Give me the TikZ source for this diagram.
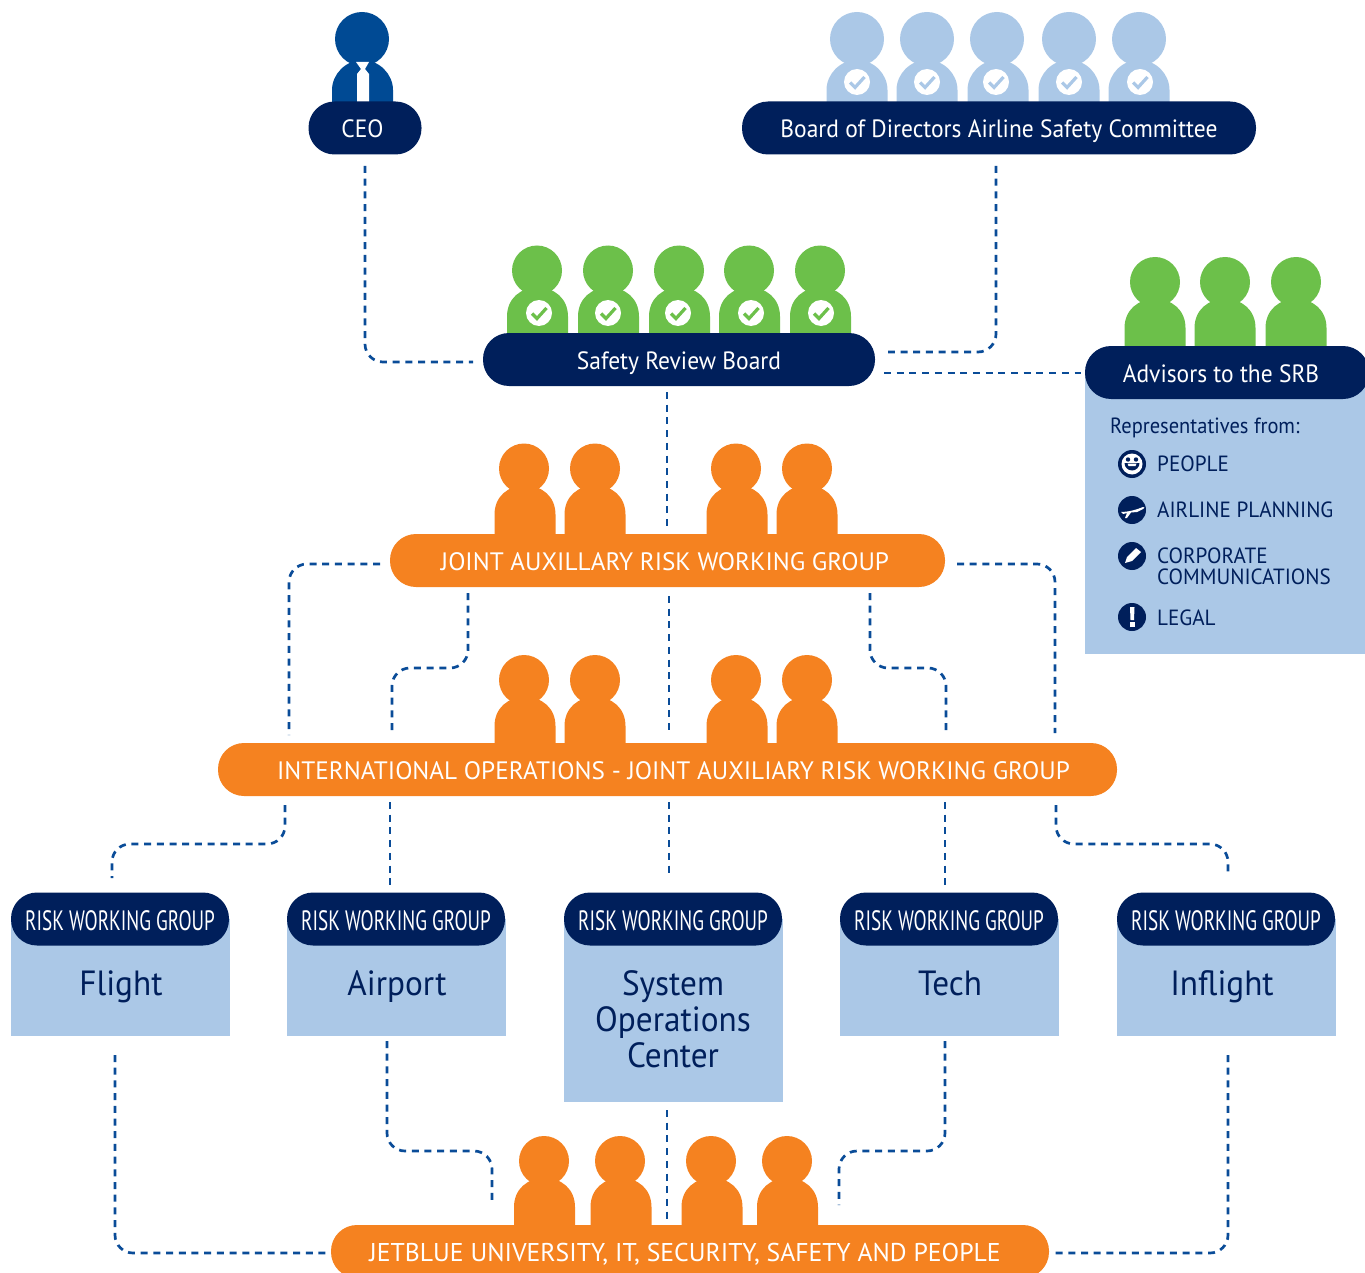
\documentclass[tikz,border=0pt]{standalone}
\usepackage{fontspec}
\setmainfont{PT Sans}
\newfontfamily\condfont[FakeStretch=0.685]{PT Sans}
\newfontfamily\navyfont[FakeStretch=0.94]{PT Sans}
\newfontfamily\listfont[FakeStretch=0.96]{PT Sans}
\newfontfamily\repfont[FakeStretch=0.93]{PT Sans}
\newfontfamily\boxfont[FakeStretch=0.95]{PT Sans}
\usetikzlibrary{shapes.misc}
\definecolor{navy}{HTML}{001F5B}
\definecolor{ceoblue}{HTML}{004A94}
\definecolor{lightb}{HTML}{ABC8E7}
\definecolor{grn}{HTML}{6CC04A}
\definecolor{org}{HTML}{F58220}
\definecolor{dashb}{HTML}{0A4C98}
\tikzset{
  x=1pt,y=-1pt,
  pill/.style={rectangle,rounded corners=26pt,minimum height=53pt,inner sep=0pt,outer sep=0pt,align=center,text depth=0pt},
  navypill/.style={pill,fill=navy,text=white,text height=19pt,font=\navyfont\fontsize{25}{25}\selectfont},
  orgpill/.style={pill,fill=org,text=white,text height=20.5pt,font=\fontsize{25.2}{25}\selectfont},
  riskpill/.style={pill,fill=navy,text=white,text height=22pt,minimum width=218pt,font=\condfont\fontsize{28}{28}\selectfont},
  riskbox/.style={rectangle,fill=lightb,minimum width=219pt,inner sep=0pt,outer sep=0pt},
  boxtext/.style={text=navy,inner sep=0pt,align=center,font=\boxfont\fontsize{35}{36}\selectfont},
  advtext/.style={text=navy,inner sep=0pt,anchor=west,align=left,font=\listfont\fontsize{22}{21}\selectfont},
  conn/.style={dashb,line width=2.7pt,dash pattern=on 7pt off 5.7pt,rounded corners=18pt},
  iconc/.style={circle,fill=navy,minimum size=28pt,inner sep=0pt},
}
\newcommand{\person}[5]{% body cx, head cx, head cy, bottom y, colour
  \fill[#5] (#2,#3) circle[radius=25];
  \fill[#5] (#1-30.5,#4) -- (#1-30.5,#3+46) .. controls (#1-30.5,#3+28) and (#1-17,#3+17) .. (#1,#3+17)
     .. controls (#1+17,#3+17) and (#1+30.5,#3+28) .. (#1+30.5,#3+46) -- (#1+30.5,#4) -- cycle;
}
\newcommand{\badge}[3]{% x, y, colour
  \fill[white] (#1,#2) circle[radius=13];
  \draw[#3,line width=3.2pt] (#1-7,#2+0.5) -- (#1-2,#2+5.5) -- (#1+7.5,#2-5);
}
\begin{document}
\begin{tikzpicture}
\useasboundingbox (0,0) rectangle (1365,1273);
\clip (0,0) rectangle (1365,1273);

% CEO
\fill[ceoblue] (362,39) circle[radius=27];
\fill[ceoblue] (332,102) -- (332,90) .. controls (332,74) and (346,60) .. (362.5,60) .. controls (379,60) and (393,74) .. (393,90) -- (393,102) -- cycle;
\fill[white] (356,62) -- (369,62) -- (365,69) -- (369,74) -- (369,102) -- (357,102) -- (357,74) -- (361,69) -- cycle;

% Board
\foreach \bx/\hx/\cx in {857/857/857,927/927/927,998/997/996,1069/1069/1069,1139/1139/1140}{
  \fill[lightb] (\hx,39) circle[radius=27];
  \fill[lightb] (\bx-30.5,102) -- (\bx-30.5,90) .. controls (\bx-30.5,74) and (\bx-17,60) .. (\bx,60) .. controls (\bx+17,60) and (\bx+30.5,74) .. (\bx+30.5,90) -- (\bx+30.5,102) -- cycle;
  \badge{\cx}{82}{lightb}
}

% SRB people
\foreach \hx/\cx in {537/539,608/608,679/678,749/751,820/821}{
  \person{\hx+0.5}{\hx}{270.5}{334}{grn}
  \badge{\cx}{313}{grn}
}
% Advisors people
\foreach \hx in {1155,1225,1296}{ \person{\hx}{\hx}{282}{347}{grn} }

% Orange people
\foreach \hx/\bx in {524/525,595/595,736/737,807/807}{
  \person{\bx}{\hx}{468.5}{535}{org}
  \person{\bx}{\hx}{680}{744}{org}
}
\foreach \hx/\bx in {544/544.5,620/621,711/712,787/787.5}{
  \person{\bx}{\hx}{1161}{1226}{org}
}

% Top pills
\node[navypill,minimum width=113pt] (ceo) at (365,128) {\hspace*{-5pt}CEO};
\node[navypill,minimum width=514pt] (board) at (999,128) {Board of Directors Airline Safety Committee};
\node[navypill,minimum width=392pt] (srb) at (679,359.5) {Safety Review Board};

% Advisors
\fill[lightb] (1085,372) rectangle (1365,654);
\node[navypill,minimum width=284pt] (adv) at (1227,372.5) {\hspace*{-12pt}Advisors to the SRB};
\node[advtext,font=\repfont\fontsize{22}{21}\selectfont] (rep) at (1110,428) {Representatives from:};
\node[iconc] (ic1) at (1132,464) {};
\node[iconc] (ic2) at (1132,510) {};
\node[iconc] (ic3) at (1132,556) {};
\node[iconc] (ic4) at (1132,617) {};
\node[advtext] (t1) at (1157,464) {PEOPLE};
\node[advtext] (t2) at (1157,510) {AIRLINE PLANNING};
\node[advtext] (t3) at (1157,566) {CORPORATE\\COMMUNICATIONS};
\node[advtext] (t4) at (1157,618) {LEGAL};
% smiley
\fill[white] (1132,464) circle[radius=10.5];
\fill[navy] (1128,459.5) circle[radius=2.2] (1136,459.5) circle[radius=2.2];
\fill[navy] (1124.5,463) arc[start angle=180,end angle=0,radius=7.5] -- cycle;
\fill[white] (1127.5,463.5) -- (1136.5,463.5) -- (1135.5,466) -- (1128.5,466) -- cycle;
% plane
\fill[white] (1121,512) .. controls (1128,512) and (1136,510) .. (1143,507) .. controls (1145,507) and (1145,508) .. (1143,509) -- (1137,512) -- (1131,512.5) -- (1127,518) -- (1125,518) -- (1127,513) -- (1123,514) -- cycle;
% pencil
\fill[white] (1125,563) -- (1127,557) -- (1136,548) -- (1141,552) -- (1132,561) -- cycle;
% exclamation
\fill[white] (1130,607) -- (1134.5,607) -- (1134,620) -- (1130.5,620) -- cycle;
\fill[white] (1130,622) rectangle (1134.5,626.5);

% Orange pills
\node[orgpill,minimum width=555pt] (jar) at (667.5,560.5) {\hspace*{-5pt}JOINT AUXILLARY RISK WORKING GROUP};
\node[orgpill,minimum width=899pt] (intl) at (667.5,769.5) {\hspace*{12pt}INTERNATIONAL OPERATIONS - JOINT AUXILIARY RISK WORKING GROUP};
\node[orgpill,minimum width=718pt,font=\fontsize{25.7}{25}\selectfont] (jbu) at (690,1251.5) {\hspace*{-10pt}JETBLUE UNIVERSITY, IT, SECURITY, SAFETY AND PEOPLE};

% Risk groups
\node[riskbox,minimum height=117pt] (bflight) at (120,977.5) {};
\node[riskbox,minimum height=117pt] (bairport) at (396.5,977.5) {};
\node[riskbox,minimum height=183pt] (bsoc) at (673,1010.5) {};
\node[riskbox,minimum height=117pt] (btech) at (949.5,977.5) {};
\node[riskbox,minimum height=117pt] (binflight) at (1226,977.5) {};
\node[riskpill] (rflight) at (120,919) {RISK WORKING GROUP};
\node[riskpill] (rairport) at (396,919) {RISK WORKING GROUP};
\node[riskpill] (rsoc) at (673,919) {RISK WORKING GROUP};
\node[riskpill] (rtech) at (949,919) {RISK WORKING GROUP};
\node[riskpill] (rinflight) at (1226,919) {RISK WORKING GROUP};
\node[boxtext] (tflight) at (121,987) {Flight};
\node[boxtext] (tairport) at (397,987) {Airport};
\node[boxtext] (tsoc) at (673,1019) {System\\Operations\\Center};
\node[boxtext] (ttech) at (950,983) {Tech};
\node[boxtext] (tinflight) at (1222,987) {Inflight};

% Connector free ends
\coordinate (ceoS) at (365,166);
\coordinate (srbW) at (473,362);
\coordinate (boardS) at (996,166);
\coordinate (srbE1) at (888,352);
\coordinate (srbE2) at (884,373);
\coordinate (advW) at (1081,373);
\coordinate (srbS) at (667,392);
\coordinate (jarN) at (667,528);
\coordinate (jarW) at (380,564);
\coordinate (intA) at (289,735);
\coordinate (jarB) at (468,593);
\coordinate (intB) at (392,735);
\coordinate (jarC) at (669,596);
\coordinate (intC) at (669,730);
\coordinate (jarD) at (870,593);
\coordinate (intD) at (946,735);
\coordinate (jarE) at (957,564);
\coordinate (intE) at (1055,733);
\coordinate (intSA) at (285,805);
\coordinate (riskA) at (112,878);
\coordinate (intSB) at (390,802);
\coordinate (riskB) at (390,885);
\coordinate (intSC) at (669,802);
\coordinate (riskC) at (669,874);
\coordinate (intSD) at (945,802);
\coordinate (riskD) at (945,885);
\coordinate (intSE) at (1056,805);
\coordinate (riskE) at (1228,876);
\coordinate (flightS) at (115,1055);
\coordinate (jbuW) at (327,1253);
\coordinate (airportS) at (387,1041);
\coordinate (jbuB) at (492,1205);
\coordinate (socS) at (667,1110);
\coordinate (jbuC) at (667,1220);
\coordinate (techS) at (945,1041);
\coordinate (jbuD) at (839,1205);
\coordinate (inflightS) at (1228,1055);
\coordinate (jbuE) at (1052,1253);

% Connectors
\draw[conn] (ceoS) |- (srbW);
\draw[conn] (boardS) |- (srbE1);
\draw[conn] (srbE2) -- (advW);
\draw[conn] (srbS) -- (jarN);
\draw[conn] (jarW) -| (intA);
\draw[conn] (jarB) -- (468,668) -- (392,668) -- (intB);
\draw[conn] (jarC) -- (intC);
\draw[conn] (jarD) -- (870,668) -- (946,668) -- (intD);
\draw[conn] (jarE) -| (intE);
\draw[conn] (intSA) -- (285,844) -- (112,844) -- (riskA);
\draw[conn] (intSB) -- (riskB);
\draw[conn] (intSC) -- (riskC);
\draw[conn] (intSD) -- (riskD);
\draw[conn] (intSE) -- (1056,844) -- (1228,844) -- (riskE);
\draw[conn] (flightS) |- (jbuW);
\draw[conn] (airportS) -- (387,1151) -- (492,1151) -- (jbuB);
\draw[conn] (socS) -- (jbuC);
\draw[conn] (techS) -- (945,1151) -- (839,1151) -- (jbuD);
\draw[conn] (inflightS) |- (jbuE);
\end{tikzpicture}
\end{document}
